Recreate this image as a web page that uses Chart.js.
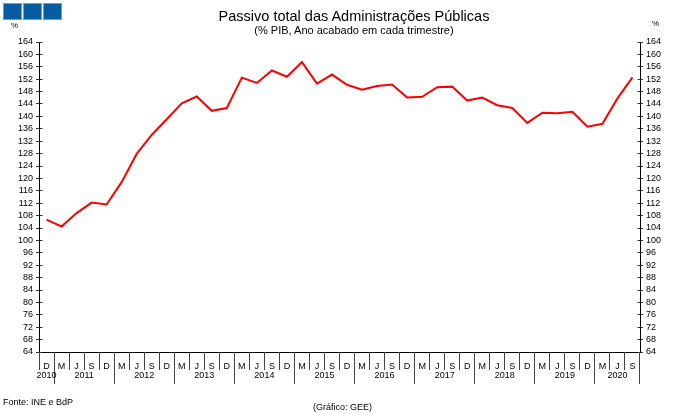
<!DOCTYPE html>
<html lang="pt">
<head>
<meta charset="UTF-8">
<title>Passivo total das Administrações Públicas</title>
<script src="https://cdn.jsdelivr.net/npm/chart.js"></script>
<style>
  body { margin: 0; background: #fff; }
  #wrap { position: relative; width: 680px; height: 419px; font-family: "Liberation Sans", Arial, sans-serif; color: #000; }
  #wrap canvas { position: absolute; left: 0; top: 0; }
  .txt { position: absolute; white-space: nowrap; line-height: 1; }
  .logo { position: absolute; top: 3px; width: 17px; height: 15px; background: #0a5ca2; border: 1px solid #6d9dc8; }
</style>
</head>
<body>
<div id="wrap">
  <canvas id="chart" width="680" height="419"></canvas>
  <div class="logo" style="left:3px"></div>
  <div class="logo" style="left:23px"></div>
  <div class="logo" style="left:43px"></div>
  <div class="txt" style="left:0; width:708px; text-align:center; top:9px; font-size:14.5px">Passivo total das Administrações Públicas</div>
  <div class="txt" style="left:0; width:708px; text-align:center; top:25px; font-size:11px">(% PIB, Ano acabado em cada trimestre)</div>
  <div class="txt" style="left:11px; top:22px; font-size:8px">%</div>
  <div class="txt" style="left:652px; top:20px; font-size:8px">%</div>
  <div class="txt" style="left:3px; top:398px; font-size:9px">Fonte: INE e BdP</div>
  <div class="txt" style="left:313px; top:403px; font-size:9px">(Gráfico: GEE)</div>
</div>

<script>
// quarters (D = Dez, M = Mar, J = Jun, S = Set) and the year each one belongs to
const quarters = ['D',
  'M','J','S','D', 'M','J','S','D', 'M','J','S','D', 'M','J','S','D', 'M','J','S','D',
  'M','J','S','D', 'M','J','S','D', 'M','J','S','D', 'M','J','S','D',
  'M','J','S'];
const years = ['2010',
  '2011','2011','2011','2011', '2012','2012','2012','2012', '2013','2013','2013','2013',
  '2014','2014','2014','2014', '2015','2015','2015','2015', '2016','2016','2016','2016',
  '2017','2017','2017','2017', '2018','2018','2018','2018', '2019','2019','2019','2019',
  '2020','2020','2020'];

// Passivo total, % do PIB
const passivo = [106.7,
  104.5, 108.8, 112.2, 111.6,
  118.8, 127.9, 134.0, 139.1,
  144.2, 146.4, 141.8, 142.7,
  152.5, 150.8, 154.8, 152.8,
  157.5, 150.6, 153.5, 150.2,
  148.6, 149.8, 150.3, 146.1,
  146.3, 149.4, 149.6, 145.1,
  146.1, 143.6, 142.7, 137.9,
  141.2, 141.0, 141.5, 136.7,
  137.6, 145.8, 152.6];

const yMin = 64, yMax = 164, yStep = 4;

const FONT = '"Liberation Sans", Arial, sans-serif';

function align(px) { return Math.round(px - 0.5) + 0.5; }

// ticks that cross the y axes + quarter/year separators under the x axis
const axisExtras = {
  id: 'axisExtras',
  afterDraw(chart) {
    const ctx = chart.ctx;
    const x = chart.scales.x;
    const yl = chart.scales.y;
    const area = chart.chartArea;
    ctx.save();
    ctx.lineWidth = 1;
    ctx.strokeStyle = '#333';
    yl.ticks.forEach(t => {
      const py = align(yl.getPixelForValue(t.value));
      ctx.beginPath();
      ctx.moveTo(align(area.left), py); ctx.lineTo(align(area.left) + 3, py);
      ctx.moveTo(align(area.right), py); ctx.lineTo(align(area.right) - 3, py);
      ctx.stroke();
    });

    const step = x.getPixelForValue(1) - x.getPixelForValue(0);
    const bottom = area.bottom;
    ctx.strokeStyle = '#444';
    for (let i = 0; i <= quarters.length; i++) {
      const px = align(x.getPixelForValue(i) - step / 2);
      const yearEdge = i === quarters.length || (i > 0 && years[i] !== years[i - 1]);
      ctx.beginPath();
      ctx.moveTo(px, bottom);
      ctx.lineTo(px, bottom + (yearEdge ? 32 : 18));
      ctx.stroke();
    }

    ctx.fillStyle = '#000';
    ctx.font = '9px ' + FONT;
    ctx.textAlign = 'center';
    ctx.textBaseline = 'middle';
    let start = 0;
    for (let i = 1; i <= years.length; i++) {
      if (i === years.length || years[i] !== years[start]) {
        const cx = (x.getPixelForValue(start) + x.getPixelForValue(i - 1)) / 2;
        ctx.fillText(years[start], cx, bottom + 24);
        start = i;
      }
    }
    ctx.restore();
  }
};

const yTicks = {
  min: yMin, max: yMax,
  ticks: { stepSize: yStep, autoSkip: false, color: '#000', font: { family: FONT, size: 9 }, padding: 3 },
  grid: { drawOnChartArea: false, tickLength: 3, color: '#333' },
  border: { color: '#000', width: 1 }
};

new Chart(document.getElementById('chart'), {
  type: 'line',
  data: {
    labels: quarters,
    datasets: [{
      data: passivo,
      borderColor: '#ff0000',
      borderWidth: 2,
      pointRadius: 0,
      tension: 0,
      fill: false
    }]
  },
  options: {
    responsive: false,
    animation: false,
    devicePixelRatio: 1,
    layout: { padding: { top: 42, left: 0, right: 0, bottom: 0 } },
    plugins: { legend: { display: false }, tooltip: { enabled: false }, title: { display: false } },
    scales: {
      x: {
        type: 'category',
        offset: true,
        grid: { display: false, drawTicks: false },
        border: { color: '#000', width: 1 },
        ticks: { color: '#000', font: { family: FONT, size: 9 }, padding: 9, autoSkip: false, maxRotation: 0 },
        afterFit(s) { s.height = 67; }
      },
      y: Object.assign({ position: 'left', afterFit(s) { s.width = 39; } }, yTicks),
      y2: Object.assign({ position: 'right', afterFit(s) { s.width = 40; } }, yTicks)
    }
  },
  plugins: [axisExtras]
});
</script>
</body>
</html>
